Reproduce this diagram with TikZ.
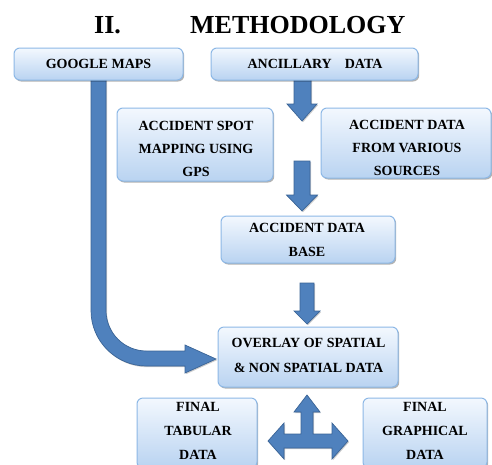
\documentclass[tikz,border=0pt]{standalone}
\usepackage{fontspec}
\setmainfont{Liberation Serif}
\usetikzlibrary{shadows}
\definecolor{arrowblue}{HTML}{4F81BD}
\definecolor{arrowedge}{HTML}{3A6496}
\definecolor{boxtop}{HTML}{F3F8FE}
\definecolor{boxbot}{HTML}{B9D3F1}
\definecolor{boxline}{HTML}{8DB8E6}
\begin{document}
\begin{tikzpicture}[x=1pt,y=-1pt,
  box/.style={draw=boxline, line width=1pt, rounded corners=6pt,
    top color=boxtop, bottom color=boxbot, inner sep=0pt,
    drop shadow={shadow xshift=1.2pt, shadow yshift=-1.5pt, fill=black, opacity=0.3}},
  txt/.style={font=\bfseries\fontsize{14}{23}\selectfont, align=center, inner sep=0pt},
  blk/.style={fill=arrowblue, draw=arrowedge, line width=0.7pt, line join=miter,
    drop shadow={shadow xshift=1pt, shadow yshift=-1.2pt, fill=black, opacity=0.2}},
  ttl/.style={font=\bfseries\fontsize{26}{30}\selectfont, anchor=base west, inner sep=0pt}
]
\useasboundingbox[fill=white] (0,0) rectangle (492,464);

% title
\node[ttl] (t1) at (94,33) {II.};
\node[ttl] (t2) at (190,33) {METHODOLOGY};

% arrows (drawn first so boxes cover their ends)
\draw[blk] (91,76) -- (91,310.5) arc[start angle=180, end angle=90, radius=55.5]
  -- (185,366) -- (185,373) -- (216,359) -- (185,345) -- (185,351)
  -- (146.5,351) arc[start angle=90, end angle=180, radius=40.5] -- (106,76) -- cycle;
\draw[blk] (294,76) -- (294,104) -- (287,104) -- (302,121) -- (317,104) -- (311,104) -- (311,76) -- cycle;
\draw[blk] (294,161) -- (294,195) -- (286.5,195) -- (302,211) -- (317.5,195) -- (310,195) -- (310,161) -- cycle;
\draw[blk] (300,283) -- (300,311) -- (294,311) -- (307,324) -- (320,311) -- (314,311) -- (314,283) -- cycle;
\draw[blk] (307,395) -- (320,412) -- (313,412) -- (313,434) -- (332,434) -- (332,423)
  -- (348,441) -- (332,459) -- (332,448) -- (284,448) -- (284,459) -- (268,441)
  -- (284,423) -- (284,434) -- (301,434) -- (301,412) -- (294,412) -- cycle;

% boxes
\node[box, minimum width=169pt, minimum height=32pt] (gm) at (98.5,64) {};
\node[txt] (gmt) at (gm.center) {GOOGLE MAPS};

\node[box, minimum width=207pt, minimum height=32pt] (anc) at (314.5,64) {};
\node[txt] (anct) at (315,64) {ANCILLARY\hspace{13pt}DATA};

\node[box, minimum width=156pt, minimum height=73pt] (spot) at (195,144.5) {};
\node[txt] (spott) at (196,149) {ACCIDENT SPOT\\MAPPING USING\\GPS};

\node[box, minimum width=170pt, minimum height=70pt] (src) at (406,143) {};
\node[txt] (srct) at (407,148) {ACCIDENT DATA\\FROM VARIOUS\\SOURCES};

\node[box, minimum width=174pt, minimum height=47pt] (db) at (308,239.5) {};
\node[txt, font=\bfseries\fontsize{14}{24}\selectfont] (dbt) at (307,240) {ACCIDENT DATA\\BASE};

\node[box, minimum width=180pt, minimum height=60pt] (ov) at (308,357) {};
\node[txt, font=\bfseries\fontsize{14}{25}\selectfont] (ovt) at (308.5,355.5) {OVERLAY OF SPATIAL\\\& NON SPATIAL DATA};

\node[box, minimum width=120pt, minimum height=70pt] (tab) at (197,433) {};
\node[txt, font=\bfseries\fontsize{14}{24}\selectfont] (tabt) at (198,431) {FINAL\\TABULAR\\DATA};

\node[box, minimum width=124pt, minimum height=70pt] (gr) at (425,433) {};
\node[txt, font=\bfseries\fontsize{14}{24}\selectfont] (grt) at (425,431) {FINAL\\GRAPHICAL\\DATA};
\end{tikzpicture}
\end{document}
